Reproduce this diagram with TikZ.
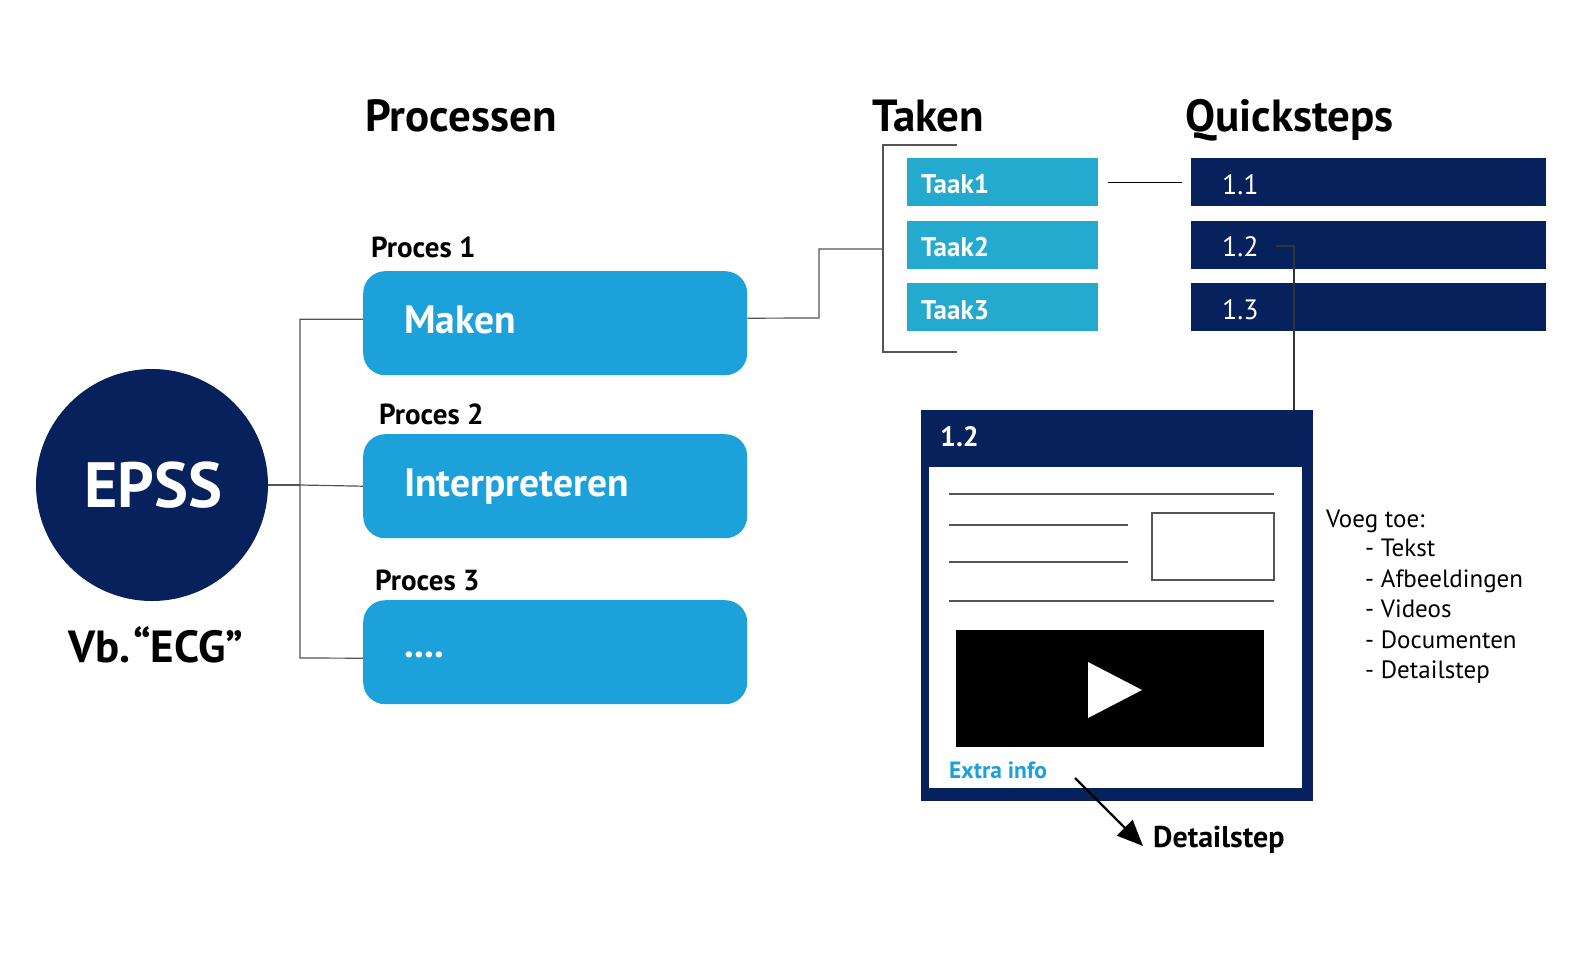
\documentclass[tikz,border=0pt]{standalone}
\usepackage{fontspec}
\setmainfont{PT Sans}
\usetikzlibrary{arrows.meta}
\definecolor{navy}{RGB}{6,33,92}
\definecolor{procblue}{RGB}{29,161,219}
\definecolor{taakblue}{RGB}{35,170,206}
\definecolor{linegray}{RGB}{85,85,85}
\definecolor{infoblue}{RGB}{27,160,220}
\begin{document}
\begin{tikzpicture}[x=1pt,y=-1pt,
  fs/.style={font=\fontsize{#1}{#1}\selectfont},
  fsb/.style={font=\fontsize{#1}{#1}\selectfont\bfseries},
  txt/.style={anchor=base west, inner sep=0pt},
  procbox/.style={fill=procblue, rounded corners=22pt, anchor=north west, minimum width=384pt, minimum height=104pt, inner sep=0pt},
  taakbox/.style={fill=taakblue, anchor=north west, minimum width=191pt, minimum height=48pt, inner sep=0pt},
  qbox/.style={fill=navy, anchor=north west, minimum width=355pt, minimum height=48pt, inner sep=0pt},
  conn/.style={draw=linegray, line width=1.2pt},
  thinl/.style={draw=linegray, line width=1.4pt}
]
\useasboundingbox (0,0) rectangle (1578,968);
\fill[white] (0,0) rectangle (1578,968);

% headings
\node[txt, fsb=45] (hproc) at (365,132) {Processen};
\node[txt, fsb=45] (htaken) at (872,132) {Taken};
\node[txt, fsb=45] (hquick) at (1185,132) {Quicksteps};

% EPSS
\node[circle, fill=navy, minimum size=232pt, inner sep=0pt] (epss) at (152,485) {};
\node[txt, fsb=64, text=white] (epsst) at (84,507) {EPSS};
\node[txt, fsb=45] (vb) at (68,662) {Vb.\kern3pt“ECG”};

% process boxes
\node[procbox] (p1) at (363,271) {};
\node[procbox] (p2) at (363,434) {};
\node[procbox] (p3) at (363,600) {};
\node[txt, fsb=29] (l1) at (371,258) {Proces 1};
\node[txt, fsb=29] (l2) at (379,424) {Proces 2};
\node[txt, fsb=29] (l3) at (375,590) {Proces 3};
\node[txt, fsb=39.5, text=white] (t1txt) at (404,333) {Maken};
\node[txt, fsb=39.5, text=white] (t2txt) at (404,496) {Interpreteren};
\node[txt, fsb=39.5, text=white] (t3txt) at (404,657) {....};

% EPSS connectors
\coordinate (jx) at (300,485);
\draw[conn] (epss.east) -- (jx);
\draw[conn] (p1.west) ++(0,-4) -- ++(-63,0) -- (300,658) -- ([yshift=-6pt]p3.west);
\draw[conn] (jx) -- (p2.west);

% Taken
\node[taakbox] (k1) at (907,158) {};
\node[taakbox] (k2) at (907,221) {};
\node[taakbox] (k3) at (907,283) {};
\node[txt, fsb=27, text=white] at (921,194) {Taak1};
\node[txt, fsb=27, text=white] at (921,257) {Taak2};
\node[txt, fsb=27, text=white] at (921,319) {Taak3};

\coordinate (bt) at (957,145);
\coordinate (bb) at (957,352);
\draw[conn] (p1.east) ++(0,-5) -- (819,318) -- (819,249) -- (883,249);
\draw[conn] (bt) -- (883,145) -- (883,352) -- (bb);

% Quicksteps
\node[qbox] (q1) at (1191,158) {};
\node[qbox] (q2) at (1191,221) {};
\node[qbox] (q3) at (1191,283) {};
\node[txt, fs=28, text=white] (q1t) at (1222,195) {1.1};
\node[txt, fs=28, text=white] (q2t) at (1222,257) {1.2};
\node[txt, fs=28, text=white] (q3t) at (1222,319) {1.3};

\draw[conn, draw=black] ([xshift=10pt]k1.east) -- ([xshift=-9pt]q1.west);

% detail panel
\node[fill=navy, anchor=north west, minimum width=392pt, minimum height=391pt, inner sep=0pt] (panel) at (921,410) {};
\node[fill=white, anchor=north west, minimum width=373pt, minimum height=321pt, inner sep=0pt] (inner) at (929,467) {};
\node[txt, fsb=28, text=white] (ptitle) at (940,446) {1.2};
\draw[conn, draw=black!80] (1276,246) -- (1294,246) -- (1294,410);

\draw[thinl] (949,494) -- (1274,494);
\draw[thinl] (949,525) -- (1128,525);
\draw[thinl] (949,562) -- (1128,562);
\draw[thinl] (949,601) -- (1274,601);
\draw[thinl] (1152,513) rectangle (1274,580);

\node[fill=black, anchor=north west, minimum width=308pt, minimum height=117pt, inner sep=0pt] (video) at (956,630) {};
\fill[white] (1088,662) -- (1142,690) -- (1088,718) -- cycle;

\node[txt, fsb=23.5, text=infoblue] (extra) at (949,778) {Extra info};
\node[txt, fsb=30] (dstep) at (1153,847) {Detailstep};
\coordinate (as) at (1075,778);
\coordinate (ae) at (1143,846);
\draw[line width=2.2pt, -{Triangle[length=26pt,width=22pt]}] (as) -- (ae);

% list
\node[txt, fs=25] (voeg) at (1326,527) {Voeg toe:};
\node[txt, fs=25] at (1365,556) {- Tekst};
\node[txt, fs=25] at (1365,587) {- Afbeeldingen};
\node[txt, fs=25] at (1365,617) {- Videos};
\node[txt, fs=25] at (1365,648) {- Documenten};
\node[txt, fs=25] at (1365,678) {- Detailstep};
\end{tikzpicture}
\end{document}
